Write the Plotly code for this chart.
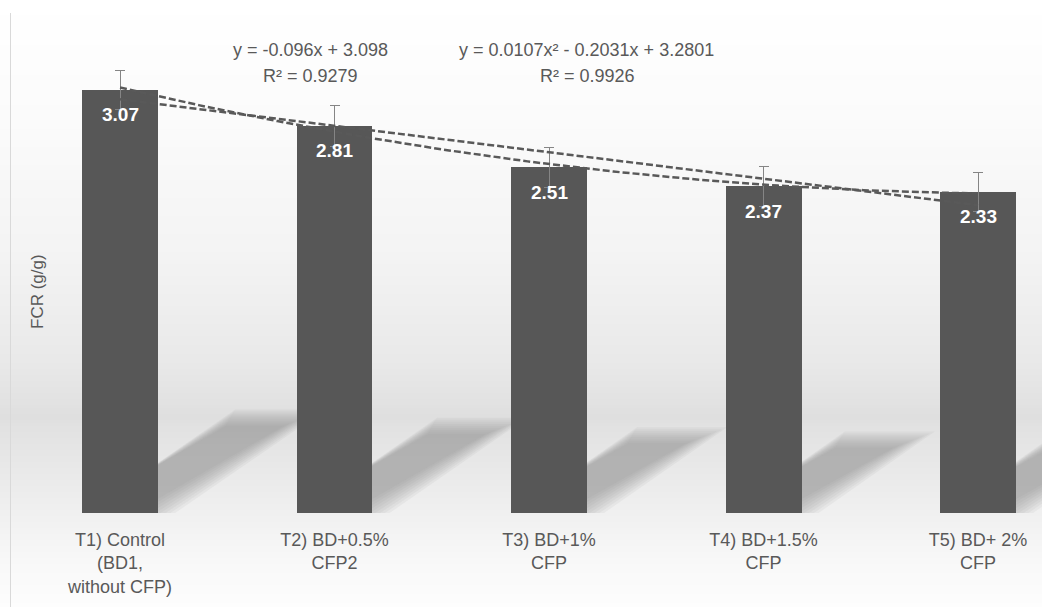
import numpy as np
import plotly.graph_objects as go

# ---------------- data ----------------
categories = [
    "T1) Control<br>(BD1,<br>without CFP)",
    "T2) BD+0.5%<br>CFP2",
    "T3) BD+1%<br>CFP",
    "T4) BD+1.5%<br>CFP",
    "T5) BD+ 2%<br>CFP",
]
fcr = [3.07, 2.81, 2.51, 2.37, 2.33]
fcr_err = [0.14, 0.15, 0.145, 0.145, 0.14]
value_labels = ["3.07", "2.81", "2.51", "2.37", "2.33"]
eq_linear = "y = -0.096x + 3.098"
r2_linear = "R² = 0.9279"
eq_poly = "y = 0.0107x² - 0.2031x + 3.2801"
r2_poly = "R² = 0.9926"
y_title = "FCR (g/g)"

# ---------------- layout constants ----------------
W, H = 1042, 607
PLOT_BOTTOM = 513          # pixel row of the baseline
X_RANGE = [0.4406, 5.298]
Y_RANGE = [0, 3.723]
BAR_W = 0.354
TXT = "#595959"
BAR = "#575757"
FONT = "Liberation Sans, Arial, sans-serif"

xpos = np.arange(1, len(fcr) + 1)
fcr_arr = np.array(fcr)

# trendlines fitted to the bar values
lin = np.polyfit(xpos, fcr_arr, 1)
quad = np.polyfit(xpos, fcr_arr, 2)
xs = np.linspace(xpos[0], xpos[-1], 121)


def py(p):  # pixel row -> paper y
    return (PLOT_BOTTOM - p) / PLOT_BOTTOM


def px(p):  # pixel column -> paper x
    return p / W


shapes = []
# background gradient (wall + floor look)
stops = [(0, 255), (120, 251), (260, 243), (360, 233), (418, 223), (428, 226),
         (470, 233), (513, 240), (560, 248), (607, 253)]
sp = np.array([s[0] for s in stops], float)
sv = np.array([s[1] for s in stops], float)
step = 3
for r in range(0, H, step):
    g = int(round(np.interp(r + step / 2, sp, sv)))
    shapes.append(dict(type="rect", xref="paper", yref="paper", layer="below",
                       x0=0, x1=1, y0=py(r + step), y1=py(r),
                       fillcolor=f"rgb({g},{g},{g})", line=dict(width=0)))

# soft diagonal shadows behind each bar
xu = 214.5   # px per x unit (approx)
yu = 137.8   # px per y unit (approx)
for xi, v in zip(xpos, fcr):
    hgt = 0.228 * v
    dx = 0.227 * v
    for j in range(9):
        dpx = 2.0 * j - 7
        ix = dpx / xu
        iy = dpx / yu
        l = xi - BAR_W / 2 + ix
        rgt = xi + BAR_W / 2 - ix
        b = 0 + iy
        t = hgt - iy
        path = (f"M {l},{b} L {rgt},{b} L {rgt + dx * (t / hgt)},{t} "
                f"L {l + dx * (t / hgt)},{t} Z")
        shapes.append(dict(type="path", xref="x", yref="y", layer="below",
                           path=path, fillcolor="rgba(140,140,140,0.085)",
                           line=dict(width=0)))

# left border of chart area
shapes.append(dict(type="line", xref="paper", yref="paper", layer="above",
                   x0=px(10.5), x1=px(10.5), y0=py(13), y1=py(607),
                   line=dict(color="#d9d9d9", width=1)))

fig = go.Figure()
fig.add_trace(go.Bar(
    x=xpos, y=fcr, width=BAR_W, marker=dict(color=BAR, line=dict(width=0)),
    error_y=dict(type="data", array=fcr_err, symmetric=True,
                 color="#858585", thickness=1, width=5),
    hoverinfo="skip", showlegend=False,
))
fig.add_trace(go.Scatter(
    x=xs, y=np.polyval(lin, xs), mode="lines",
    line=dict(color=TXT, width=2.5, dash="7px,3px"),
    hoverinfo="skip", showlegend=False,
))
fig.add_trace(go.Scatter(
    x=xs, y=np.polyval(quad, xs), mode="lines",
    line=dict(color=TXT, width=2.5, dash="7px,3px"),
    hoverinfo="skip", showlegend=False,
))

annotations = []
for xi, v, lab in zip(xpos, fcr, value_labels):
    annotations.append(dict(x=xi, y=v, xref="x", yref="y", text=lab,
                            showarrow=False, yshift=-25, yanchor="middle",
                            font=dict(family=FONT, size=19, color="white",
                                      weight="bold")))

for txt, cx, cy in [(eq_linear, 310, 50), (r2_linear, 310, 76),
                    (eq_poly, 586, 50), (r2_poly, 587, 76)]:
    annotations.append(dict(x=px(cx), y=py(cy), xref="paper", yref="paper",
                            text=txt, showarrow=False, xanchor="center",
                            yanchor="middle",
                            font=dict(family=FONT, size=18, color=TXT)))

annotations.append(dict(x=px(37), y=py(292), xref="paper", yref="paper",
                        text=y_title, showarrow=False, textangle=-90,
                        xanchor="center", yanchor="middle",
                        font=dict(family=FONT, size=17, color=TXT)))

fig.update_layout(
    width=W, height=H,
    margin=dict(l=0, r=0, t=0, b=H - PLOT_BOTTOM, pad=0),
    paper_bgcolor="white", plot_bgcolor="rgba(0,0,0,0)",
    shapes=shapes, annotations=annotations,
    xaxis=dict(range=X_RANGE, tickmode="array", tickvals=xpos,
               ticktext=categories, showgrid=False, zeroline=False,
               showline=False, ticks="", ticklabelstandoff=14,
               tickfont=dict(family=FONT, size=18, color=TXT),
               fixedrange=True),
    yaxis=dict(range=Y_RANGE, showgrid=False, zeroline=False,
               showline=False, showticklabels=False, ticks="",
               fixedrange=True),
    bargap=0,
)

fig.write_html("out.html", config={"displayModeBar": False})
